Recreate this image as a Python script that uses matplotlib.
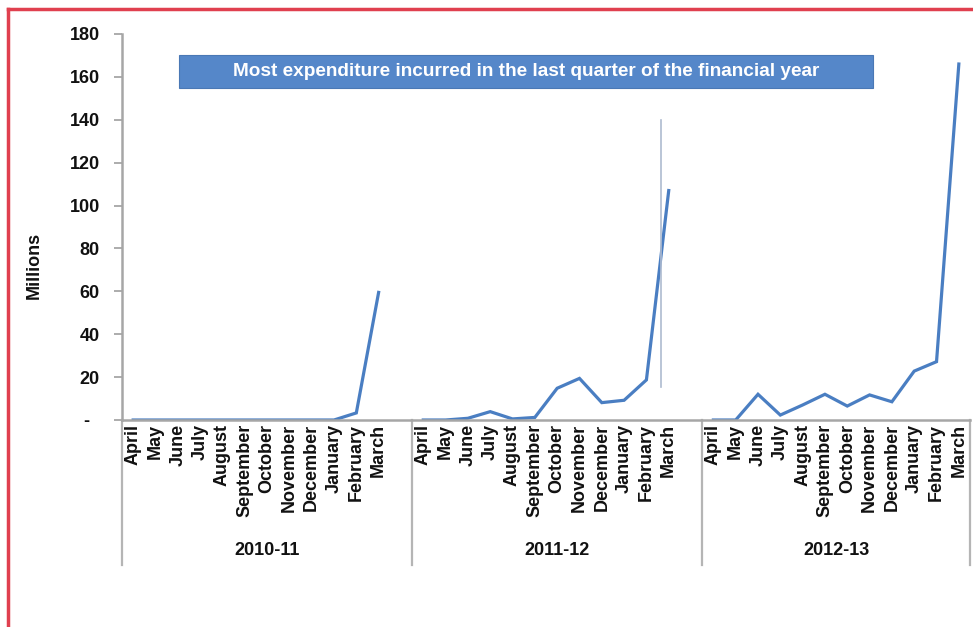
import numpy as np
import matplotlib.pyplot as plt
import matplotlib.transforms as mtransforms
from matplotlib.patches import Rectangle
from matplotlib.lines import Line2D

plt.rcParams['font.family'] = ['Liberation Sans', 'DejaVu Sans']
plt.rcParams['font.weight'] = 'bold'

# monthly expenditure, millions
years = ['2010-11', '2011-12', '2012-13']
months = ['April', 'May', 'June', 'July', 'August', 'September', 'October',
          'November', 'December', 'January', 'February', 'March']
spend_2010 = [0, 0, 0, 0, 0, 0, 0, 0, 0, 0, 3.3, 59.5]
spend_2011 = [0, 0, 0.8, 3.9, 0.5, 1.2, 14.8, 19.4, 8.1, 9.2, 18.7, 107]
spend_2012 = [0, 0, 12, 2.3, 7, 12, 6.5, 11.7, 8.5, 22.8, 27.2, 166]
yticks = [0, 20, 40, 60, 80, 100, 120, 140, 160, 180]
banner = 'Most expenditure incurred in the last quarter of the financial year'

grey = '#A6A6A6'
blue = '#4A7EC2'

fig = plt.figure(figsize=(9.73, 6.27), dpi=100)
ax = fig.add_axes([122/973, 207/627, 848/973, 386/627])

# 13 slots per year (last one left empty), the final year has 12
n = 13
x = np.arange(38)
y = np.full(38, np.nan)
for g, vals in enumerate([spend_2010, spend_2011, spend_2012]):
    y[g*n:g*n+12] = vals
ax.plot(x, y, color=blue, lw=2.3, solid_joinstyle='miter')

# thin marker line near the 2011-12 jump
ax.plot([n + 10.67, n + 10.67], [15.4, 140], color='#AEBBD0', lw=1.2)

ax.set_xlim(-0.5, 37.5)
ax.set_ylim(0, 180)
ax.set_yticks(yticks)
ax.set_yticklabels(['-  ' if v == 0 else str(v) for v in yticks])

pos = [g*n + m for g in range(3) for m in range(12)]
ax.set_xticks(pos)
ax.set_xticklabels(months * 3, rotation=90, va='top', ha='center')

ax.tick_params(axis='x', length=0, pad=3, labelsize=13, labelcolor='#111111')
ax.tick_params(axis='y', length=6, width=1.3, color=grey, pad=10,
               labelsize=13, labelcolor='#111111')

for s in ['top', 'right']:
    ax.spines[s].set_visible(False)
for s in ['left', 'bottom']:
    ax.spines[s].set_color(grey)
    ax.spines[s].set_linewidth(1.8)

# group separators and year labels below the axis
trans = mtransforms.blended_transform_factory(ax.transData, ax.transAxes)
for xs in [-0.5, 12.5, 25.5, 37.5]:
    ax.plot([xs, xs], [0, -0.376], transform=trans, color='#B5B5B5',
            lw=1.6, clip_on=False)
centers = [6, 19, 31.5]
for c, yr in zip(centers, years):
    ax.text(c, -0.337, yr, transform=trans, ha='center', va='center',
            fontsize=13, color='#111111')

fig.text(34/973, 1 - 265/627, 'Millions', rotation=90, ha='center',
         va='center', fontsize=13, color='#111111')

# banner
fig.patches.append(Rectangle((179/973, 1 - 88/627), 694/973, 33/627,
                             transform=fig.transFigure, facecolor='#5587C9',
                             edgecolor='#4A78B5', lw=0.8))
fig.text(526/973, 1 - 71.5/627, banner, ha='center', va='center',
         fontsize=13.7, color='white')

# red frame
red = '#E0404F'
fig.lines.append(Line2D([8/973, 8/973], [0, 1 - 9/627], transform=fig.transFigure,
                        color=red, lw=2.5))
fig.lines.append(Line2D([8/973, 1], [1 - 9/627, 1 - 9/627], transform=fig.transFigure,
                        color=red, lw=2.5))

fig.savefig('out.png', dpi=100)
